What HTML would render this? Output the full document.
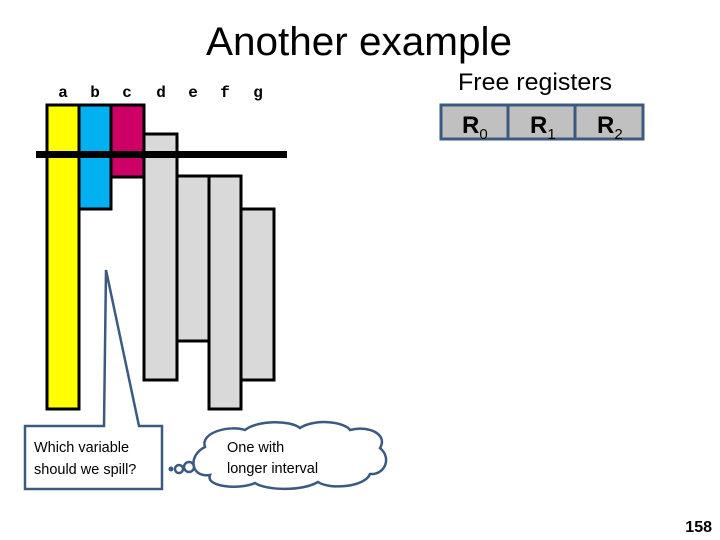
<!DOCTYPE html>
<html><head><meta charset="utf-8"><style>
body{margin:0;width:720px;height:540px;background:#fff;overflow:hidden}
svg{display:block}
</style></head><body>
<svg width="720" height="540" viewBox="0 0 720 540" xmlns="http://www.w3.org/2000/svg">
<text x="359" y="55" text-anchor="middle" font-family="Liberation Sans, sans-serif" font-size="40" textLength="306" lengthAdjust="spacingAndGlyphs">Another example</text>
<g font-family="Liberation Mono, monospace" font-size="16" font-weight="bold" text-anchor="middle">
<text x="63" y="97">a</text><text x="95" y="97">b</text><text x="127" y="97">c</text><text x="161" y="97">d</text><text x="193" y="97">e</text><text x="225" y="97">f</text><text x="258" y="97">g</text>
</g>
<g stroke="#000" stroke-width="3">
<rect x="47" y="105" width="32" height="304" fill="#ffff00"/>
<rect x="79" y="105" width="32" height="104" fill="#00b0f0"/>
<rect x="111" y="105" width="33" height="72" fill="#cc0066"/>
<rect x="144" y="134" width="33" height="246" fill="#d9d9d9"/>
<rect x="177" y="176" width="32" height="165" fill="#d9d9d9"/>
<rect x="209" y="176" width="32" height="233" fill="#d9d9d9"/>
<rect x="241" y="209" width="33" height="171" fill="#d9d9d9"/>
</g>
<rect x="36" y="151" width="251" height="7" fill="#000"/>
<text x="535" y="90" text-anchor="middle" font-family="Liberation Sans, sans-serif" font-size="24" textLength="154" lengthAdjust="spacingAndGlyphs">Free registers</text>
<g stroke="#3c5a80" stroke-width="3" fill="#c0c0c0">
<rect x="441" y="105" width="67" height="34"/><rect x="508" y="105" width="67" height="34"/><rect x="575" y="105" width="68" height="34"/>
</g>
<g font-family="Liberation Sans, sans-serif" font-size="24" font-weight="bold">
<text x="462" y="133">R<tspan font-size="15" font-weight="normal" dy="6">0</tspan></text>
<text x="530" y="133">R<tspan font-size="15" font-weight="normal" dy="6">1</tspan></text>
<text x="597" y="133">R<tspan font-size="15" font-weight="normal" dy="6">2</tspan></text>
</g>
<path d="M25,426 L104,426 L106,270 L139,426 L162,426 L162,489 L25,489 Z" fill="#fff" stroke="#3c5a80" stroke-width="2.5"/>
<g font-family="Liberation Sans, sans-serif" font-size="14.5" fill="#000">
<text x="34" y="452">Which variable</text><text x="34" y="474">should we spill?</text>
</g>
<path d="M205,447 C200,432 230,425 245,430 C258,420 290,420 300,428 C315,418 345,422 350,430 C370,425 388,435 380,448 C392,458 385,475 370,474 C365,487 330,490 318,482 C300,492 265,490 255,483 C240,490 205,487 210,475 C190,478 188,455 205,447 Z" fill="#fff" stroke="#3c5a80" stroke-width="2.5"/>
<circle cx="189" cy="467" r="5" fill="#fff" stroke="#3c5a80" stroke-width="2.5"/>
<circle cx="179" cy="469" r="4" fill="#fff" stroke="#3c5a80" stroke-width="2.5"/>
<circle cx="171" cy="469" r="2.5" fill="#3c5a80"/>
<g font-family="Liberation Sans, sans-serif" font-size="14.5" fill="#000">
<text x="227" y="452">One with</text><text x="227" y="473">longer interval</text>
</g>
<text x="712" y="532" text-anchor="end" font-family="Liberation Sans, sans-serif" font-size="16" font-weight="bold">158</text>
</svg>
</body></html>
